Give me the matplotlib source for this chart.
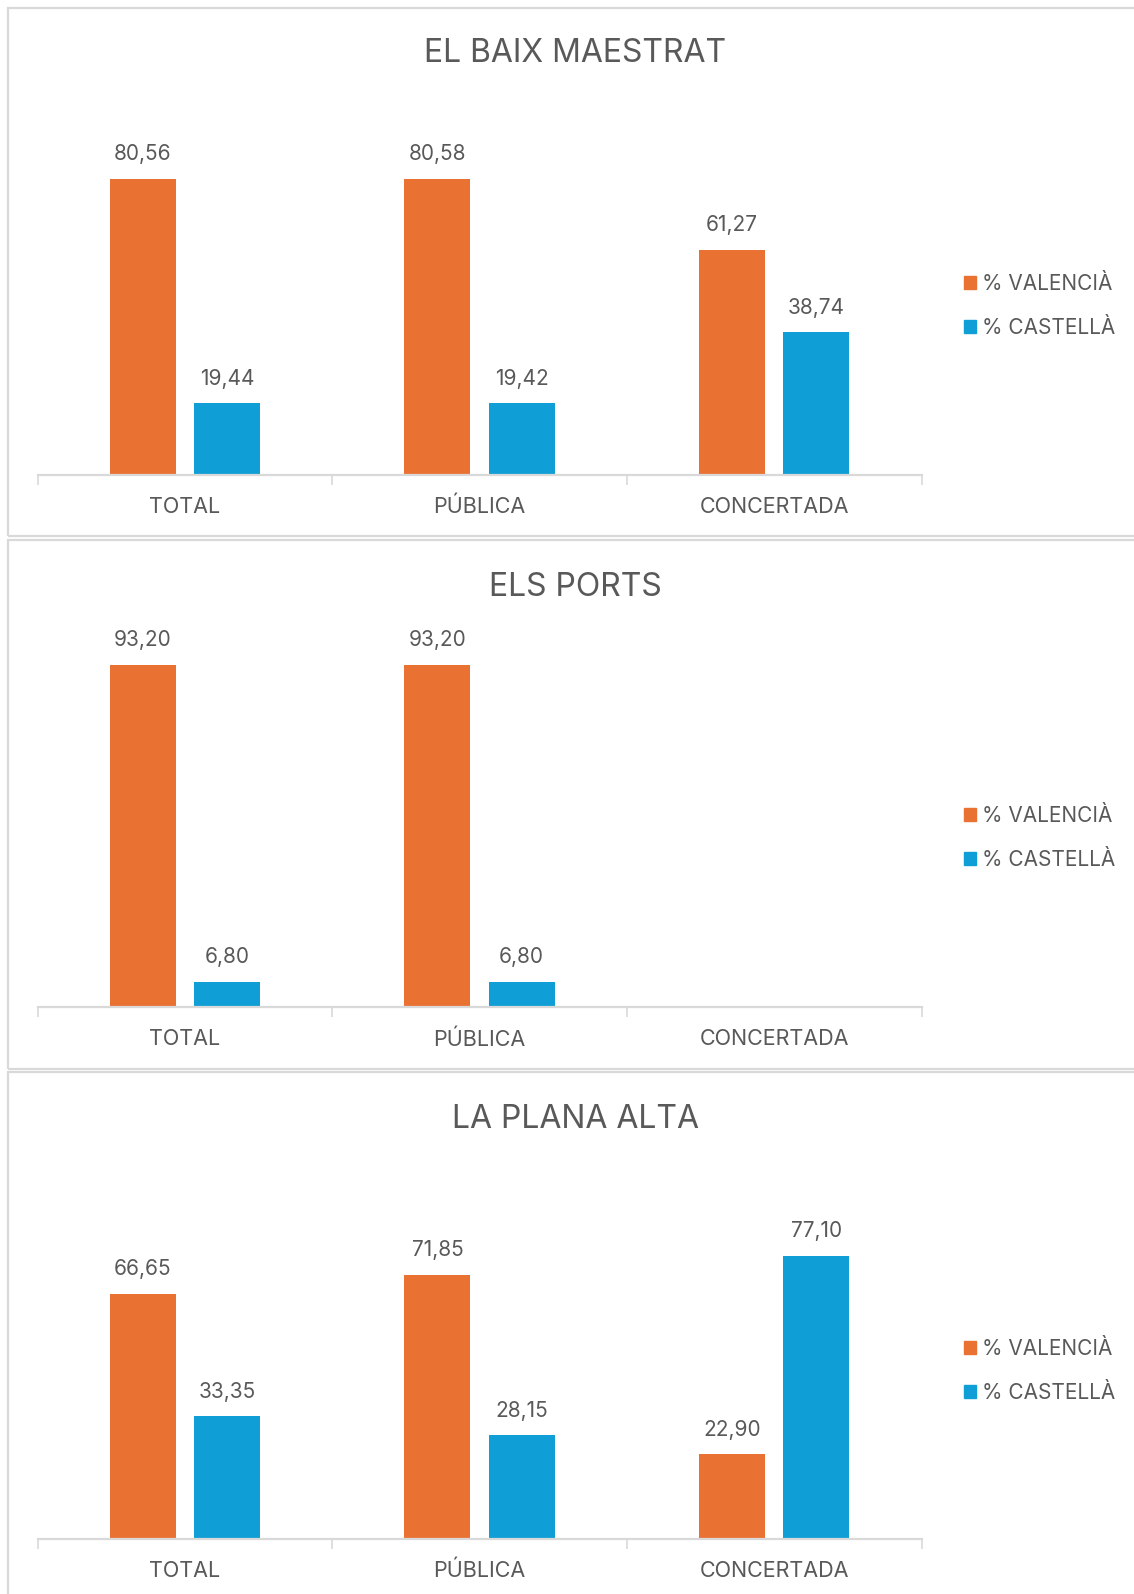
import numpy as np
import matplotlib.pyplot as plt
from matplotlib.patches import Rectangle

plt.rcParams['font.family'] = ['Inter', 'DejaVu Sans']

categories = ['TOTAL', 'PÚBLICA', 'CONCERTADA']
titles = ['EL BAIX MAESTRAT', 'ELS PORTS', 'LA PLANA ALTA']
valencia = [[80.56, 80.58, 61.27], [93.20, 93.20, np.nan], [66.65, 71.85, 22.90]]
castella = [[19.44, 19.42, 38.74], [6.80, 6.80, np.nan], [33.35, 28.15, 77.10]]
series_names = ['% VALENCIÀ', '% CASTELLÀ']

ORANGE = '#E97132'
BLUE = '#0F9ED5'
TXT = '#595959'
GRID = '#D9D9D9'

W, H = 1134, 1594
fig = plt.figure(figsize=(W / 100, H / 100), dpi=100)

def fx(px):
    return px / W

def fy(py):
    return 1 - py / H

# panel frames (top, bottom) in pixels
frames = [(8, 536), (540, 1069), (1072, 1610)]
baselines = [474.5, 1007, 1538.5]
title_y = [54, 587, 1119]
legend_y = [306, 838, 1371]

for i in range(3):
    top, bot = frames[i]
    fig.patches.append(Rectangle((fx(8), fy(bot)), fx(1200), (bot - top) / H,
                                 transform=fig.transFigure, fill=False,
                                 edgecolor=GRID, lw=1.6))

    b = baselines[i]
    ax = fig.add_axes([fx(37.6), fy(b), (921.6 - 37.6) / W, 367 / H])
    x = np.arange(len(categories))
    v = np.array(valencia[i])
    c = np.array(castella[i])
    ax.bar(x - 0.143, v, width=0.224, color=ORANGE)
    ax.bar(x + 0.143, c, width=0.224, color=BLUE)
    for xs, vals in ((x - 0.143, v), (x + 0.143, c)):
        for xx, val in zip(xs, vals):
            if np.isnan(val):
                continue
            ax.annotate(f'{val:.2f}'.replace('.', ','), (xx, val),
                        xytext=(0, 10.5), textcoords='offset points',
                        ha='center', va='bottom', fontsize=15, color=TXT)
    ax.set_xlim(-0.5, 2.5)
    ax.set_ylim(0, 100)
    ax.set_yticks([])
    for s in ('top', 'right', 'left'):
        ax.spines[s].set_visible(False)
    ax.spines['bottom'].set_color(GRID)
    ax.spines['bottom'].set_linewidth(1.6)
    ax.set_xticks(x)
    ax.set_xticklabels(categories, fontsize=15.5, color=TXT)
    ax.tick_params(axis='x', which='major', length=0, pad=16)
    ax.set_xticks([-0.5, 0.5, 1.5, 2.5], minor=True)
    ax.tick_params(axis='x', which='minor', length=7, width=1.2, color=GRID)
    ax.patch.set_alpha(0)

    fig.text(fx(575), fy(title_y[i]), titles[i], ha='center', va='center',
             fontsize=23, color=TXT)

    handles = [Rectangle((0, 0), 1, 1, color=ORANGE),
               Rectangle((0, 0), 1, 1, color=BLUE)]
    fig.legend(handles, series_names, loc='center left',
               bbox_to_anchor=(fx(964), fy(legend_y[i])),
               bbox_transform=fig.transFigure, frameon=False,
               fontsize=15, labelcolor=TXT, handlelength=0.58,
               handleheight=0.58, handletextpad=0.3, labelspacing=1.15,
               borderpad=0, borderaxespad=0)

fig.savefig('out.png', dpi=100)
